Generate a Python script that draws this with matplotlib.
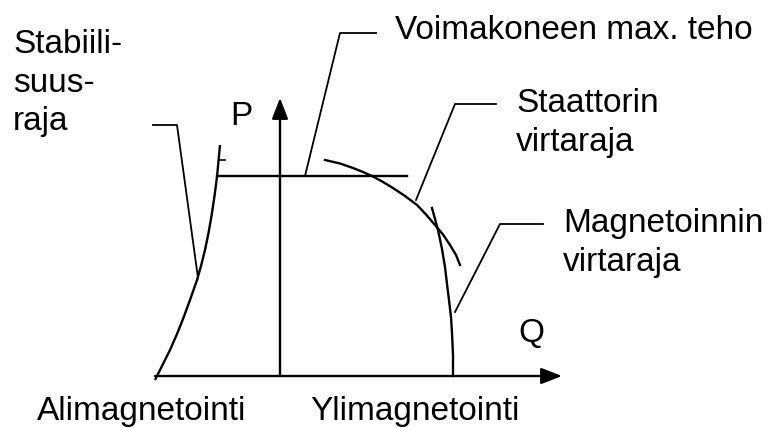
# Generaattorin käyttöalue (PQ-diagrammi)

import matplotlib.pyplot as plt

plt.rcParams['font.family'] = ['Liberation Sans', 'DejaVu Sans']

# rajakäyrät (Q, P), yksikkönä kuvan pikseli origosta
stab_q = [-125, -118, -110, -103, -97, -90, -83, -79, -75, -71.5, -68.5, -65.5, -63, -61.5, -60]
stab_p = [-4, 10, 26, 42, 57, 76, 96, 110, 126, 143, 160, 180, 199, 215, 231]

staattori_q = [45, 60, 73, 83, 92, 103, 113, 125, 137, 146, 155, 163, 170, 176, 180]
staattori_p = [216, 212.5, 208, 204, 200, 194, 188, 180, 171, 161.5, 151, 141.5, 131, 121, 111]

magn_q = [152, 155, 158, 162, 165, 167, 169, 171, 172, 173, 173]
magn_p = [168, 157, 146, 127, 109, 92, 76, 59, 43, 21, 0]

# voimakoneen max. teho
pmax = 200
pmax_q = [-63, 127]

# selitteiden viivat
leader_stab = ([-127, -103, -82], [251, 251, 98])
leader_voima = ([25, 60, 96], [200, 343, 343])
leader_staattori = ([136, 175, 216], [176, 272, 272])
leader_magn = ([175, 220, 263], [64, 152, 152])

# tekstit: (x, baseline, rivit)
tekstit = [
    (-267, 323, ['Stabiili-', 'suus-', 'raja']),
    (115, 337, ['Voimakoneen max. teho']),
    (236, 264, ['Staattorin', 'virtaraja']),
    (283, 144, ['Magnetoinnin', 'virtaraja']),
    (-50, 251, ['P']),
    (238, 34, ['Q']),
    (-243, -44, ['Alimagnetointi']),
    (30, -44, ['Ylimagnetointi']),
]
rivivali = 38.5

fig = plt.figure(figsize=(7.69, 4.28), dpi=100)
ax = fig.add_axes([0, 0, 1, 1])
ax.set_xlim(-280, 489)
ax.set_ylim(-52, 376)
ax.axis('off')

# akselit
nuoli = dict(arrowstyle='-|>,head_length=0.9,head_width=0.35', color='black',
             lw=1.7, shrinkA=0, shrinkB=0, mutation_scale=14)
ax.annotate('', xy=(0, 278), xytext=(0, 0), arrowprops=nuoli)
ax.annotate('', xy=(282, 0), xytext=(-125, 0), arrowprops=nuoli)

# käyrät
lw = 1.7
ax.plot(stab_q, stab_p, color='black', lw=lw, solid_capstyle='butt')
ax.plot([-60, -55], [216, 216], color='black', lw=1.2)
ax.plot(staattori_q, staattori_p, color='black', lw=lw)
ax.plot(magn_q, magn_p, color='black', lw=lw)
ax.plot(pmax_q, [pmax, pmax], color='black', lw=lw)

for lq, lp in [leader_stab, leader_voima, leader_staattori, leader_magn]:
    ax.plot(lq, lp, color='black', lw=1.3)

for x, y, rivit in tekstit:
    for i, r in enumerate(rivit):
        ax.text(x, y - i * rivivali, r, fontsize=24, ha='left', va='baseline')

fig.savefig('out.png', dpi=100, facecolor='white')
